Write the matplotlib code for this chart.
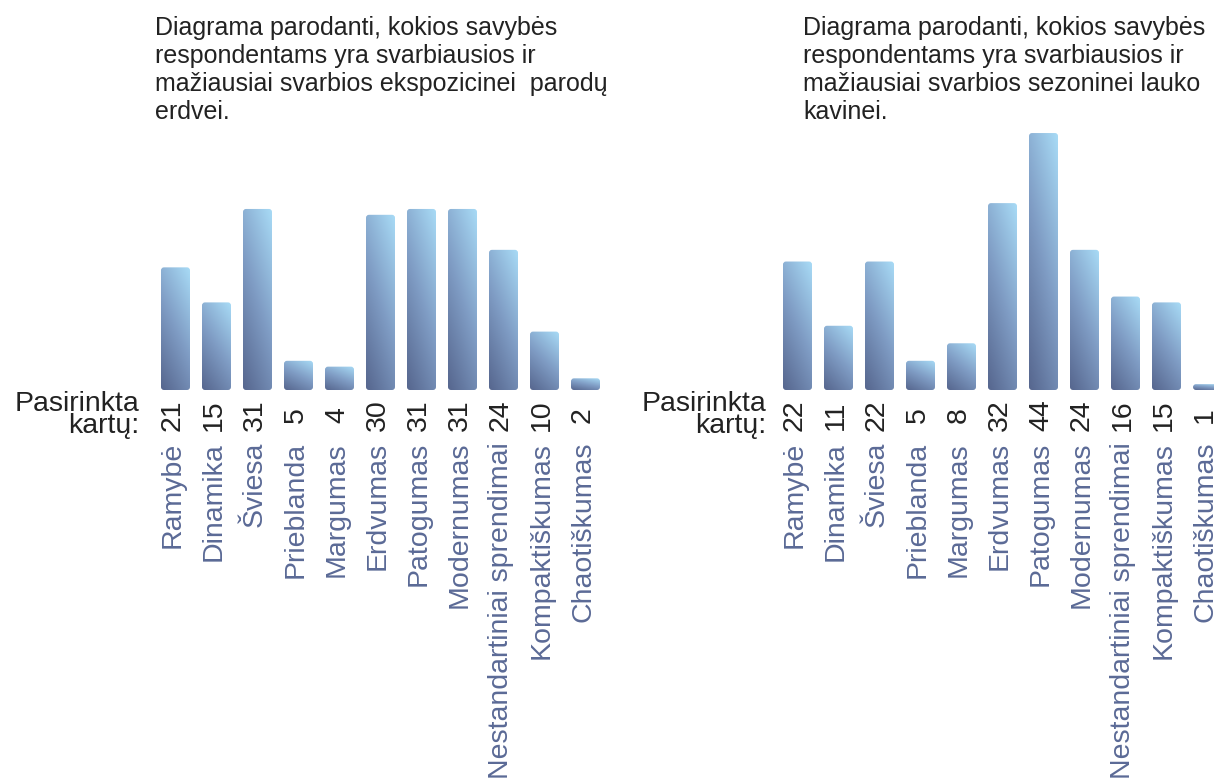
import numpy as np
import matplotlib
matplotlib.use("Agg")
import matplotlib.pyplot as plt
from matplotlib.patches import FancyBboxPatch
from matplotlib.colors import LinearSegmentedColormap
from matplotlib import transforms

plt.rcParams['font.family'] = ['Liberation Sans', 'DejaVu Sans']

categories = ["Ramybė", "Dinamika", "Šviesa", "Prieblanda", "Margumas", "Erdvumas",
              "Patogumas", "Modernumas", "Nestandartiniai sprendimai",
              "Kompaktiškumas", "Chaotiškumas"]
values_expo = [21, 15, 31, 5, 4, 30, 31, 31, 24, 10, 2]
values_cafe = [22, 11, 22, 5, 8, 32, 44, 24, 16, 15, 1]
title_expo = ["Diagrama parodanti, kokios savybės",
              "respondentams yra svarbiausios ir",
              "mažiausiai svarbios ekspozicinei  parodų",
              "erdvei."]
title_cafe = ["Diagrama parodanti, kokios savybės",
              "respondentams yra svarbiausios ir",
              "mažiausiai svarbios sezoninei lauko",
              "kavinei."]
side_label = "Pasirinkta\nkartų:"

W, H = 1214, 782
fig = plt.figure(figsize=(W / 100, H / 100), dpi=100)
fig.patch.set_facecolor('white')

cmap = LinearSegmentedColormap.from_list("g", ["#56668e", "#7f9cc4", "#a8dbf6"])
name_color = "#5b6a96"
num_color = "#222222"
FS = 20.5

PXU = 5.84      # pixels per value unit
STEP = 41.0     # pixels per category
YMAX = 46


def px_ax(left, base, width, top_units):
    h = top_units * PXU
    return fig.add_axes([left / W, 1 - base / H, width / W, h / H])


def draw_panel(left_px, values, title, title_px, side_right_px):
    n = len(values)
    ax = px_ax(left_px, 390, STEP * n, YMAX)
    ax.set_xlim(-0.5, n - 0.5)
    ax.set_ylim(0, YMAX)
    ax.axis('off')
    x = np.arange(n)
    bars = ax.bar(x, values, width=29 / STEP, color='none', edgecolor='none')
    r_px = 3.0
    rx = r_px / STEP
    ry = r_px / PXU
    u = np.linspace(0, 1, 64)
    v = np.linspace(0, 1, 256)
    U, V = np.meshgrid(u, v)
    grad = 0.33 * U + 0.67 * V
    for b in bars:
        bx, by, bw, bh = b.get_x(), b.get_y(), b.get_width(), b.get_height()
        patch = FancyBboxPatch((bx, by), bw, bh,
                               boxstyle=f"round,pad=0,rounding_size={rx}",
                               mutation_aspect=ry / rx,
                               facecolor='none', edgecolor='none')
        ax.add_patch(patch)
        im = ax.imshow(grad, cmap=cmap, origin='lower', aspect='auto',
                       extent=(bx, bx + bw, by, by + bh), vmin=0, vmax=1,
                       interpolation='bilinear')
        im.set_clip_path(patch)
    ax.set_xlim(-0.5, n - 0.5)
    ax.set_ylim(0, YMAX)

    blend = transforms.blended_transform_factory(ax.transData, transforms.IdentityTransform())
    for i, (c, val) in enumerate(zip(categories, values)):
        ax.text(i - 0.06, H - 415, str(val), rotation=90, ha='center', va='center',
                fontsize=FS, color=num_color, transform=blend, clip_on=False)
        ax.text(i - 0.06, H - 442, c, rotation=90, ha='center', va='top',
                fontsize=FS, color=name_color, transform=blend, clip_on=False)

    fig.text(side_right_px / W, 1 - 391 / H, side_label, ha='right', va='top',
             multialignment='right', linespacing=0.78,
             fontsize=FS, color=num_color)

    for k, line in enumerate(title):
        fig.text(title_px / W, 1 - (35 + 28 * k) / H, line, ha='left', va='baseline',
                 fontsize=18, color='#222222')


draw_panel(155, values_expo, title_expo, 155, 139)
draw_panel(777, values_cafe, title_cafe, 803, 766)

fig.savefig("out.png", dpi=100, facecolor='white')
